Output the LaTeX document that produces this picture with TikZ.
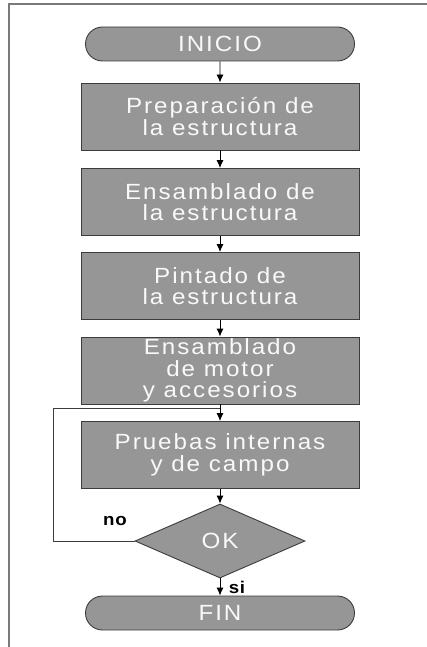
\documentclass[tikz,border=0pt]{standalone}
\usepackage{fontspec}
\setmainfont{Liberation Sans}[LetterSpace=9, FakeStretch=1.1]
\newfontfamily\answerfont{Liberation Sans}[LetterSpace=4, FakeStretch=1.1]
\usetikzlibrary{shapes.geometric, shapes.misc, arrows.meta}

\definecolor{boxgray}{HTML}{969696}
\definecolor{edgegray}{HTML}{3C3C3C}
\definecolor{framegray}{HTML}{7A7A7A}

\begin{document}
\begin{tikzpicture}[x = 1pt, y = -1pt, > = {Latex[length = 8pt, width = 7pt]},
	stepbox/.style = {draw = edgegray, fill = boxgray, text = white!95!gray, line width = 0.9pt,
		minimum width = 278pt, minimum height = 67pt, inner sep = 0pt, align = center,
		font = \fontsize{22pt}{21.5pt}\selectfont},
	terminal/.style = {stepbox, rounded rectangle, rounded rectangle arc length = 180,
		minimum width = 269pt, minimum height = 34pt},
	decision/.style = {stepbox, diamond, aspect = 2.3, minimum width = 170pt, minimum height = 74pt},
	flow/.style = {->, line width = 0.9pt},
	answer/.style = {font = \answerfont\fontsize{17pt}{18pt}\selectfont\bfseries}]

	% Bounding box and frame

	\useasboundingbox (0, 0) rectangle (427, 647);
	\draw [framegray, line width = 1.5pt] (9, 647) -- (9, 4) -- (427, 4);

	% Definitions

	\def\X{220}		% Axis of the chart

	% Steps

	\node [terminal] (inicio) at (\X, 44) {INICIO};
	\node [stepbox] (preparacion) at (\X, 116.5) {Preparación de\\la estructura};
	\node [stepbox] (ensamblado) at (\X, 202) {Ensamblado de\\la estructura};
	\node [stepbox] (pintado) at (\X, 286) {Pintado de\\la estructura};
	\node [stepbox] (motor) at (\X, 370.5) {Ensamblado\\de motor\\y accesorios};
	\node [stepbox] (pruebas) at (\X, 455) {Pruebas internas\\y de campo};
	\node [decision] (ok) at (\X, 541) {OK};
	\node [terminal] (fin) at (\X, 613) {FIN};

	% Main flow

	\draw [flow] (inicio) -- (preparacion);
	\draw [flow] (preparacion) -- (ensamblado);
	\draw [flow] (ensamblado) -- (pintado);
	\draw [flow] (pintado) -- (motor);
	\draw [flow] (motor) -- (pruebas);
	\draw [flow] (pruebas) -- (ok);
	\draw [flow] (ok) -- node [answer, right, xshift = 5pt] {si} (fin);

	% Loop back when the test fails

	\coordinate (retorno) at (53, 408);
	\draw [edgegray, line width = 0.8pt] (ok.west) -| (retorno) -- (retorno -| pruebas.north);
	\node [answer] (no) at (115, 521) {no};

\end{tikzpicture}
\end{document}
